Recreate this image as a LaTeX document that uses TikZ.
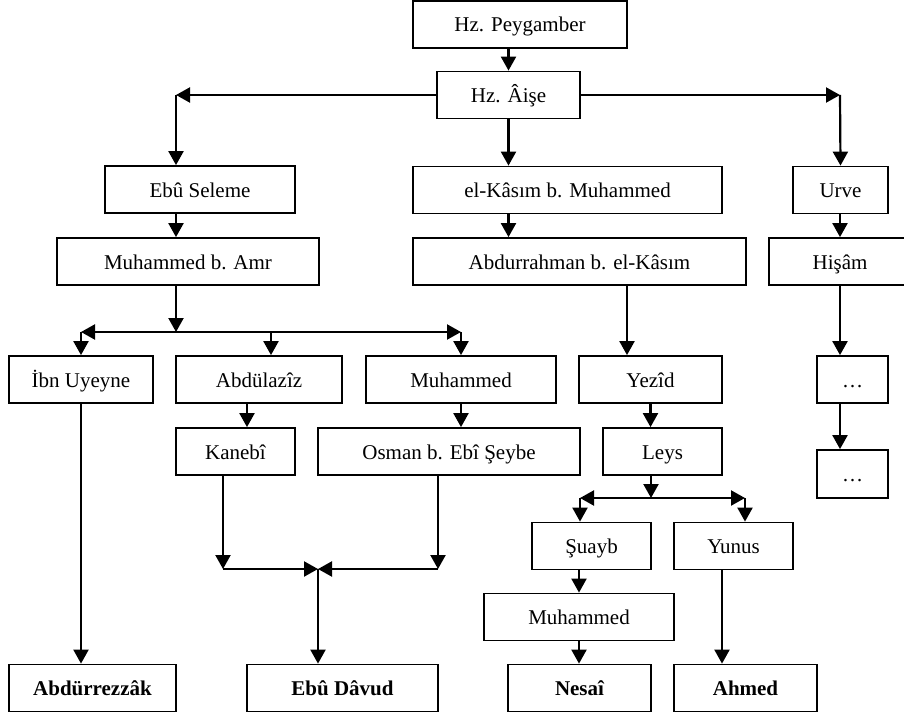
\documentclass[tikz,border=0pt]{standalone}
\usepackage{fontspec}
\setmainfont{Liberation Serif}
\usetikzlibrary{arrows.meta}

\begin{document}
\begin{tikzpicture}[x=0.5pt,y=-0.5pt,
    box/.style={draw,line width=0.9pt,minimum height=23.5pt,inner sep=0pt,text height=9pt,text depth=1.5pt,font=\fontsize{10.5}{12}\selectfont},
    sink/.style={box,font=\fontsize{10.5}{12}\selectfont\bfseries},
    arr/.style={line width=1.1pt,-{Triangle[length=7pt,width=7.5pt]}},
    arrs/.style={line width=1.1pt,{Triangle[length=7pt,width=7.5pt]}-{Triangle[length=7pt,width=7.5pt]}}]
  \useasboundingbox (0,0) rectangle (904,717);
  % the chain
  \node[box,minimum width=107pt] (peyg) at (520,24.5) {Hz. Peygamber};
  \node[box,minimum width=71.5pt] (aise) at (508.5,95) {Hz. Âişe};
  \node[box,minimum width=95pt] (ebus) at (200,189.5) {Ebû Seleme};
  \node[box,minimum width=154.5pt] (kasim) at (567.5,190) {el-Kâsım b. Muhammed};
  \node[box,minimum width=47.5pt] (urve) at (840.5,190) {Urve};
  \node[box,minimum width=131pt] (amr) at (188,261.5) {Muhammed b. Amr};
  \node[box,minimum width=166.5pt] (abdr) at (579.5,261.5) {Abdurrahman b. el-Kâsım};
  \node[box,minimum width=71pt] (hisam) at (840,261.5) {Hişâm};
  \node[box,minimum width=72pt] (ibnu) at (81,379.5) {İbn Uyeyne};
  \node[box,minimum width=83pt] (abdaz) at (259,379.5) {Abdülazîz};
  \node[box,minimum width=95pt] (muha) at (461,379.5) {Muhammed};
  \node[box,minimum width=71.5pt] (yezid) at (650.5,379.5) {Yezîd};
  \node[box,minimum width=35.5pt] (dotsa) at (852.5,379.5) {…};
  \node[box,minimum width=59.5pt] (kaneb) at (235.5,451.5) {Kanebî};
  \node[box,minimum width=131pt] (osman) at (449,451.5) {Osman b. Ebî Şeybe};
  \node[box,minimum width=59.5pt] (leys) at (662.5,451.5) {Leys};
  \node[box,minimum width=35.5pt,minimum height=24pt] (dotsb) at (852.5,474) {…};
  \node[box,minimum width=59.5pt] (suayb) at (591.5,546) {Şuayb};
  \node[box,minimum width=59.5pt] (yunus) at (733.5,546) {Yunus};
  \node[box,minimum width=95pt] (muhb) at (579,617) {Muhammed};
  \node[sink,minimum width=83.5pt] (abdrz) at (92.5,688) {Abdürrezzâk};
  \node[sink,minimum width=95.5pt] (davud) at (342.5,688) {Ebû Dâvud};
  \node[sink,minimum width=71.5pt] (nesai) at (579.5,688) {Nesaî};
  \node[sink,minimum width=71.5pt] (ahmed) at (745.5,688) {Ahmed};
  % turning points
  \coordinate (cl) at (176,95);
  \coordinate (cr) at (840,95);
  \coordinate (sa) at (176,332);
  \coordinate (sam) at (271,332);
  \coordinate (cab) at (247,403);
  \coordinate (cy) at (627,286);
  \coordinate (ja) at (223,569);
  \coordinate (jb) at (438,569);
  \coordinate (jc) at (318,569);
  \coordinate (sb) at (651,498);
  \coordinate (sbl) at (580,498);
  \coordinate (sbr) at (745,498);
  \coordinate (cyu) at (722,569);
  % top
  \draw[arr] (peyg.south -| aise) -- (aise.north);
  \draw[arr] (aise.west) -- (cl);
  \draw[arr] (cl) -- (cl |- ebus.north);
  \draw[arr] (aise.east) -- (cr);
  \draw[arr] (cr) -- (urve.north);
  \draw[arr] (aise.south) -- (kasim.north -| aise);
  % left branch
  \draw[arr] (ebus.south -| cl) -- (amr.north -| cl);
  \draw[arr] (amr.south -| sa) -- (sa);
  \draw[arrs] (ibnu.north |- sa) -- (muha.north |- sa);
  \draw[arr] (ibnu.north |- sa) -- (ibnu.north);
  \draw[arr] (sam) -- (sam |- abdaz.north);
  \draw[arr] (muha.north |- sa) -- (muha.north);
  \draw[arr] (ibnu.south) -- (abdrz.north -| ibnu);
  \draw[arr] (cab) -- (cab |- kaneb.north);
  \draw[arr] (muha.south) -- (osman.north -| muha);
  \draw[arr] (kaneb.south -| ja) -- (ja);
  \draw[arr] (ja) -- (jc);
  \draw[arr] (osman.south -| jb) -- (jb);
  \draw[arr] (jb) -- (jc);
  \draw[arr] (jc) -- (davud.north -| jc);
  % middle branch
  \draw[arr] (kasim.south -| aise) -- (abdr.north -| aise);
  \draw[arr] (cy) -- (cy |- yezid.north);
  \draw[arr] (yezid.south) -- (leys.north -| yezid);
  \draw[arr] (leys.south -| sb) -- (sb);
  \draw[arrs] (sbl) -- (sbr);
  \draw[arr] (sbl) -- (sbl |- suayb.north);
  \draw[arr] (sbr) -- (sbr |- yunus.north);
  \draw[arr] (suayb.south -| muhb) -- (muhb.north);
  \draw[arr] (muhb.south) -- (nesai.north -| muhb);
  \draw[arr] (yunus.south -| cyu) -- (cyu |- ahmed.north);
  % right branch
  \draw[arr] (urve.south -| hisam) -- (hisam.north);
  \draw[arr] (hisam.south) -- (dotsa.north -| hisam);
  \draw[arr] (dotsa.south -| hisam) -- (dotsb.north -| hisam);
\end{tikzpicture}
\end{document}
